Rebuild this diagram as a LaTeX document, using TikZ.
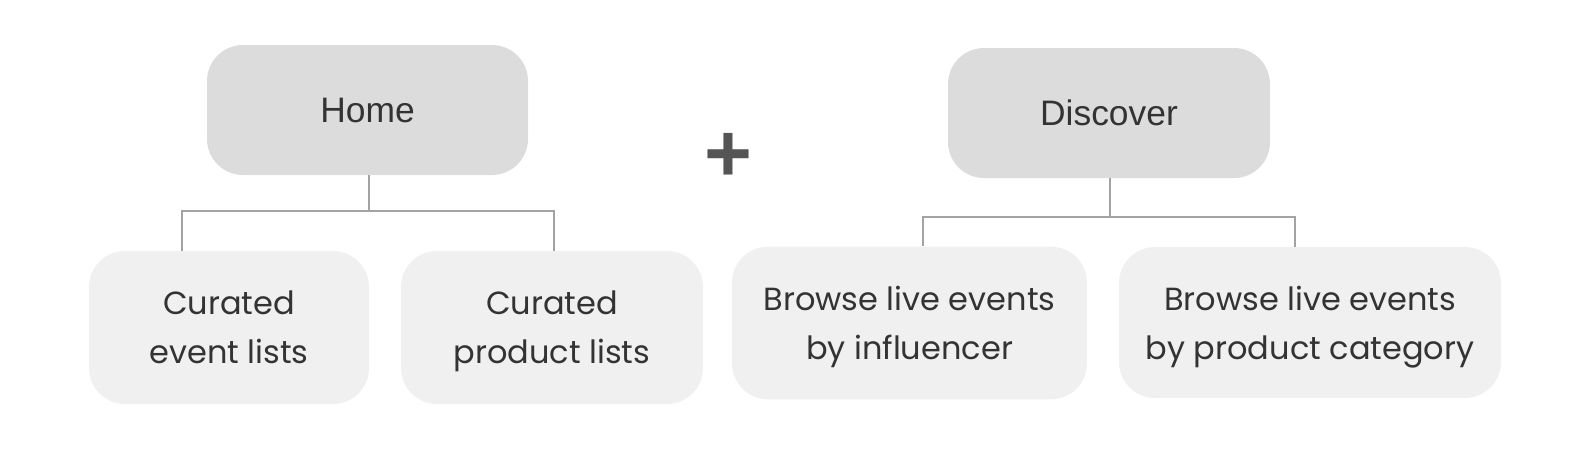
\documentclass[tikz,border=0pt]{standalone}
\usepackage{fontspec}
\setmainfont{Poppins}
\newfontfamily\arialfont{Liberation Sans}
\definecolor{topfill}{HTML}{DCDCDC}
\definecolor{subfill}{HTML}{F0F0F0}
\definecolor{linecol}{HTML}{A3A3A3}
\definecolor{txtcol}{HTML}{333333}
\definecolor{pluscol}{HTML}{555555}
\begin{document}
\begin{tikzpicture}[x=0.5pt,y=-0.5pt,
  topbox/.style={fill=topfill,rounded corners=18pt,inner sep=0pt,text=txtcol,font=\arialfont\fontsize{17.7}{22}\selectfont},
  subbox/.style={fill=subfill,rounded corners=18pt,inner sep=0pt,text=txtcol,align=center,text depth=0pt,font=\fontsize{16}{24.4}\selectfont},
  conn/.style={draw=linecol,line width=1pt}]
\useasboundingbox (0,0) rectangle (1584,457);
\node[topbox,minimum width=160.5pt,minimum height=65pt] (home) at (367.5,110) {Home};
\node[topbox,minimum width=161pt,minimum height=65pt] (disc) at (1109,113) {Discover};
\node[subbox,minimum width=140pt,minimum height=76.5pt] (cel) at (229,327.5) {Curated\\event lists};
\node[subbox,minimum width=151pt,minimum height=76.5pt] (cpl) at (552,327.5) {Curated\\product lists};
\node[subbox,minimum width=177.5pt,minimum height=76.3pt] (bli) at (909.5,323) {Browse live events\\by influencer};
\node[subbox,minimum width=191pt,minimum height=75.5pt] (blp) at (1310,322.5) {Browse live events\\by product category};
\coordinate (hj) at (369,211);
\coordinate (dj) at (1110,217);
\draw[conn] (home.south -| hj) -- (hj);
\draw[conn] (cel.north -| 182,0) |- (hj) -| (cpl.north -| 554,0);
\draw[conn] (disc.south -| dj) -- (dj);
\draw[conn] (bli.north -| 923,0) |- (dj) -| (blp.north -| 1295,0);
\node[font=\arialfont\bfseries\fontsize{41}{41}\selectfont,text=pluscol,inner sep=0pt] (plus) at (728,157.6) {+};
\end{tikzpicture}
\end{document}
